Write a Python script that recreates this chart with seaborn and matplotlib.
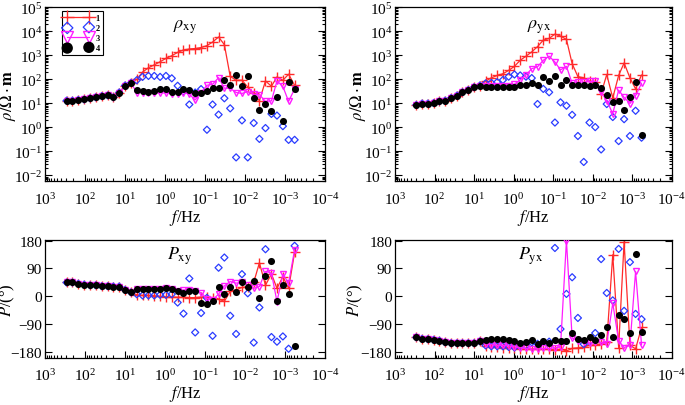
import numpy as np
import matplotlib
matplotlib.use("Agg")
import matplotlib.pyplot as plt
import seaborn as sns
from matplotlib.ticker import LogLocator, LogFormatterSciNotation, NullFormatter, FixedLocator

# ---------------- data ----------------
freq = [288, 206, 147, 105, 75, 54, 38, 27, 19.6, 14,
        10, 7.1, 5.1, 3.65, 2.6, 1.86, 1.33, 0.95, 0.68, 0.485,
        0.347, 0.248, 0.177, 0.126, 0.090, 0.065, 0.046, 0.033, 0.0236, 0.0168,
        0.012, 0.0086, 0.0061, 0.0044, 0.0031, 0.0022, 0.0016, 0.00114, 0.00082, 0.00058]

series_labels = ["1", "2", "3", "4"]

# apparent resistivity, log10(rho / ohm.m)
rho_xy_1_log10 = [1.11, 1.11, 1.14, 1.16, 1.21, 1.25, 1.30, 1.33, 1.25, 1.45,
                  1.74, 1.85, 2.00, 2.30, 2.48, 2.60, 2.73, 2.87, 2.98, 3.12,
                  3.22, 3.26, 3.28, 3.32, 3.40, 3.55, 3.76, 3.44, 2.12, 1.96,
                  1.96, 1.68, 1.41, 1.11, 1.93, 1.71, 2.10, 1.96, 2.21, 1.75]
rho_xy_2_log10 = [1.11, 1.11, 1.14, 1.16, 1.21, 1.25, 1.30, 1.33, 1.25, 1.45,
                  1.74, 1.85, 1.96, 2.10, 2.14, 2.14, 2.10, 2.14, 2.04, 1.73,
                  1.50, 0.95, 1.45, 1.59, -0.10, 0.95, 0.53, 1.21, 0.79, -1.25,
                  0.29, -1.25, 0.18, -0.48, -0.03, 0.56, 0.49, 0.05, -0.52, -0.52]
rho_xy_3_log10 = [1.11, 1.11, 1.14, 1.16, 1.21, 1.25, 1.30, 1.33, 1.25, 1.45,
                  1.74, 1.85, 1.45, 1.45, 1.45, 1.45, 1.43, 1.43, 1.40, 1.40,
                  1.45, 1.38, 1.14, 1.45, 1.75, 1.79, 2.07, 1.63, 1.62, 1.45,
                  1.41, 1.49, 1.38, 1.36, 1.08, 1.10, 1.93, 1.70, 1.08, 1.60]
rho_xy_4_log10 = [1.11, 1.11, 1.14, 1.16, 1.21, 1.25, 1.30, 1.33, 1.25, 1.45,
                  1.74, 1.85, 1.55, 1.52, 1.48, 1.52, 1.58, 1.58, 1.49, 1.49,
                  1.58, 1.55, 1.41, 1.45, 1.52, 1.63, 1.63, 1.96, 1.77, 2.16,
                  1.70, 2.12, 1.21, 0.74, 0.97, 0.70, 1.27, 0.25, 1.89, 1.59]

rho_yx_1_log10 = [0.93, 0.99, 0.99, 1.01, 1.08, 1.11, 1.22, 1.32, 1.46, 1.55,
                  1.67, 1.74, 1.92, 2.06, 2.16, 2.23, 2.37, 2.54, 2.79, 2.96,
                  3.14, 3.36, 3.63, 3.70, 3.88, 3.80, 3.66, 2.65, 2.11, 2.06,
                  1.92, 1.88, 1.40, 2.20, 1.22, 2.16, 2.68, 2.06, 1.60, 2.18]
rho_yx_2_log10 = [0.93, 0.99, 0.99, 1.01, 1.08, 1.11, 1.22, 1.32, 1.46, 1.55,
                  1.67, 1.74, 1.83, 1.85, 1.88, 1.97, 2.11, 2.20, 2.16, 2.11,
                  2.05, 0.97, 1.60, 1.46, 0.20, 1.04, 0.90, 0.52, -0.36, -1.44,
                  0.20, 0.01, -0.92, 0.97, 0.43, -0.57, 0.34, -0.36, 0.69, -0.43]
rho_yx_3_log10 = [0.93, 0.99, 0.99, 1.01, 1.08, 1.11, 1.22, 1.32, 1.46, 1.55,
                  1.67, 1.74, 1.72, 1.72, 1.72, 1.72, 1.74, 1.80, 1.97, 2.18,
                  2.44, 2.52, 2.79, 2.96, 2.72, 2.39, 2.54, 1.83, 1.88, 1.88,
                  1.91, 1.91, 1.46, 1.11, 0.57, 1.55, 1.25, 0.99, 1.32, 1.83]
rho_yx_4_log10 = [0.93, 0.99, 0.99, 1.01, 1.08, 1.11, 1.22, 1.32, 1.46, 1.55,
                  1.67, 1.74, 1.67, 1.67, 1.67, 1.67, 1.67, 1.67, 1.76, 1.76,
                  1.85, 1.75, 2.11, 1.92, 2.13, 1.76, 1.97, 1.78, 1.78, 1.76,
                  1.74, 1.76, 1.64, 1.36, 1.06, 1.11, 0.73, 1.27, 1.90, -0.32]

# phase, degrees
p_xy_1 = [44, 44, 40, 37, 35, 35, 32, 32, 31, 31,
          20, 12, 4, 2, 2, 1, -1, -3, -3, -4,
          -4, -5, -5, -3, -2, -7, -10, -17, 15, 20,
          28, 30, 44, 108, 35, 72, 25, 63, 25, 142]
p_xy_2 = [44, 44, 40, 37, 35, 35, 32, 32, 31, 31,
          20, 12, 6, 2, 2, 2, 4, 4, 6, -21,
          -57, 57, -118, -55, -6, -129, 92, 125, -64, -123,
          71, 9, -151, -37, 152, -133, -148, -131, -171, 163]
p_xy_3 = [44, 44, 40, 37, 35, 35, 32, 32, 31, 31,
          20, 12, 22, 22, 22, 23, 23, 25, 22, 18,
          20, 20, 17, 11, -8, -12, 6, 33, 47, 42,
          44, 36, 25, 31, 80, 75, -18, 71, 42, 150]
p_xy_4 = [44, 44, 40, 37, 35, 35, 32, 32, 31, 31,
          20, 12, 22, 22, 22, 23, 23, 25, 22, 18,
          11, 16, 15, -23, -26, -16, 29, 7, 29, 12,
          45, 29, 49, -6, 66, 115, -16, 36, 7, -162]

p_yx_1 = [-134, -139, -140, -142, -145, -150, -153, -153, -153, -153,
          -153, -147, -163, -165, -165, -167, -167, -170, -171, -172,
          -172, -172, -173, -172, -175, -172, -178, -170, -168, -165,
          -160, -158, -155, -150, 134, -167, 176, -160, -171, -102]
p_yx_2 = [-134, -139, -140, -142, -145, -150, -153, -153, -153, -153,
          -153, -147, -160, -163, -163, -163, -165, -167, -163, -160,
          -150, -155, -150, -148, 156, -107, 7, 61, -71, -156,
          -147, -120, 120, 10, -14, 153, -48, 110, -58, -75]
p_yx_3 = [-134, -139, -140, -142, -145, -150, -153, -153, -153, -153,
          -153, -147, -155, -158, -160, -160, -162, -165, -168, -170,
          -172, -172, -170, -170, -168, -165, 180, -136, -145, -150,
          -152, -150, -150, -155, -23, -145, -167, -160, 80, -158]
p_yx_4 = [-134, -139, -140, -142, -145, -150, -153, -153, -153, -153,
          -153, -147, -144, -140, -140, -140, -142, -145, -151, -150,
          -142, -156, -145, -151, -142, -147, -145, -120, -140, -144,
          -134, -142, -126, -101, -132, -61, -75, -120, 137, -115]

# ---------------- style ----------------
sns.set_theme(style="ticks")
plt.rcParams["font.family"] = ["Liberation Serif", "DejaVu Serif"]
plt.rcParams["mathtext.fontset"] = "stix"
plt.rcParams.update({
    "axes.edgecolor": "black", "axes.labelcolor": "black", "text.color": "black",
    "xtick.color": "black", "ytick.color": "black", "axes.linewidth": 0.9,
})

RED = "#ff2a2a"
BLUE = "#2a3cff"
MAG = "#ff1cff"

fig = plt.figure(figsize=(6.85, 4.06), dpi=100)
ax_tl = fig.add_axes([0.0657, 0.5507, 0.409, 0.4303])
ax_tr = fig.add_axes([0.5766, 0.5507, 0.404, 0.4303])
ax_bl = fig.add_axes([0.0657, 0.1165, 0.409, 0.2900])
ax_br = fig.add_axes([0.5766, 0.1165, 0.404, 0.2900])


def draw(ax, s1, s2, s3, s4, log):
    ax.set_xscale("log")
    if log:
        ax.set_yscale("log")
        s1, s2, s3, s4 = [np.power(10.0, np.asarray(s)) for s in (s1, s2, s3, s4)]
    sns.lineplot(x=freq, y=s1, ax=ax, color=RED, marker="+", markersize=6.5,
                 markeredgewidth=1.0, markeredgecolor=RED, linewidth=0.9,
                 sort=False, estimator=None, label=series_labels[0], zorder=2)
    sns.scatterplot(x=freq, y=s2, ax=ax, marker="D", s=13, facecolors="none",
                    edgecolors=BLUE, linewidths=0.9, label=series_labels[1], zorder=3)
    sns.lineplot(x=freq, y=s3, ax=ax, color=MAG, marker="v", markersize=5,
                 markerfacecolor="none", markeredgecolor=MAG, markeredgewidth=1.0,
                 linewidth=0.9, sort=False, estimator=None,
                 label=series_labels[2], zorder=4)
    sns.scatterplot(x=freq, y=s4, ax=ax, marker="o", s=26, color="black",
                    edgecolor="black", linewidth=0, label=series_labels[3], zorder=5)
    ax.set_xlim(1e3, 1e-4)
    ax.xaxis.set_major_locator(LogLocator(base=10, numticks=20))
    ax.xaxis.set_minor_locator(LogLocator(base=10, subs=np.arange(2, 10), numticks=20))
    ax.xaxis.set_major_formatter(LogFormatterSciNotation())
    ax.xaxis.set_minor_formatter(NullFormatter())
    if log:
        ax.set_ylim(10 ** -2.25, 10 ** 5.02)
        ax.yaxis.set_major_locator(LogLocator(base=10, numticks=20))
        ax.yaxis.set_minor_locator(LogLocator(base=10, subs=np.arange(2, 10), numticks=20))
        ax.yaxis.set_major_formatter(LogFormatterSciNotation())
        ax.yaxis.set_minor_formatter(NullFormatter())
    else:
        ax.set_ylim(-200, 182)
        ax.yaxis.set_major_locator(FixedLocator([-180, -90, 0, 90, 180]))
    ax.tick_params(which="both", direction="in", top=False, right=True,
                   bottom=True, left=True, width=0.8, labelsize=11)
    ax.tick_params(which="major", length=5)
    ax.tick_params(which="minor", length=2.5)
    ax.tick_params(axis="x", pad=7)
    ax.tick_params(axis="y", pad=2)
    ax.set_xlabel(r"$f$/Hz", fontsize=12, labelpad=0)
    for sp in ax.spines.values():
        sp.set_visible(True)
        sp.set_color("black")
        sp.set_linewidth(0.9)


draw(ax_tl, rho_xy_1_log10, rho_xy_2_log10, rho_xy_3_log10, rho_xy_4_log10, True)
draw(ax_tr, rho_yx_1_log10, rho_yx_2_log10, rho_yx_3_log10, rho_yx_4_log10, True)
draw(ax_bl, p_xy_1, p_xy_2, p_xy_3, p_xy_4, False)
draw(ax_br, p_yx_1, p_yx_2, p_yx_3, p_yx_4, False)

for ax in (ax_tl, ax_tr):
    ax.set_ylabel(r"$\rho/\Omega\cdot\mathbf{m}$", fontsize=12)
for ax in (ax_bl, ax_br):
    ax.set_ylabel(r"$P$/(°)", fontsize=12)
# ylabel anchor is the right edge of the rotated text
ax_tl.yaxis.set_label_coords(-0.098, 0.5)
ax_tr.yaxis.set_label_coords(-0.098, 0.5)
ax_bl.yaxis.set_label_coords(-0.100, 0.5)
ax_br.yaxis.set_label_coords(-0.110, 0.5)

ax_tl.text(0.50, 0.88, r"$\rho_{\rm xy}$", transform=ax_tl.transAxes, fontsize=13, ha="center")
ax_tr.text(0.52, 0.88, r"$\rho_{\rm yx}$", transform=ax_tr.transAxes, fontsize=13, ha="center")
ax_bl.text(0.48, 0.84, r"$P_{\rm xy}$", transform=ax_bl.transAxes, fontsize=13, ha="center")
ax_br.text(0.49, 0.84, r"$P_{\rm yx}$", transform=ax_br.transAxes, fontsize=13, ha="center")

for ax in (ax_tr, ax_bl, ax_br):
    lg = ax.get_legend()
    if lg is not None:
        lg.remove()

leg = ax_tl.legend(loc="upper left", bbox_to_anchor=(0.06, 0.975), borderaxespad=0,
                   numpoints=2, scatterpoints=2, markerscale=1.6, fontsize=6,
                   frameon=True, fancybox=False, edgecolor="black", framealpha=1,
                   handlelength=3.2, borderpad=0.35, labelspacing=0.25, handletextpad=0.5)
leg.get_frame().set_linewidth(0.8)
for t in leg.get_texts():
    t.set_fontweight("bold")

fig.savefig("out.png", dpi=100)
